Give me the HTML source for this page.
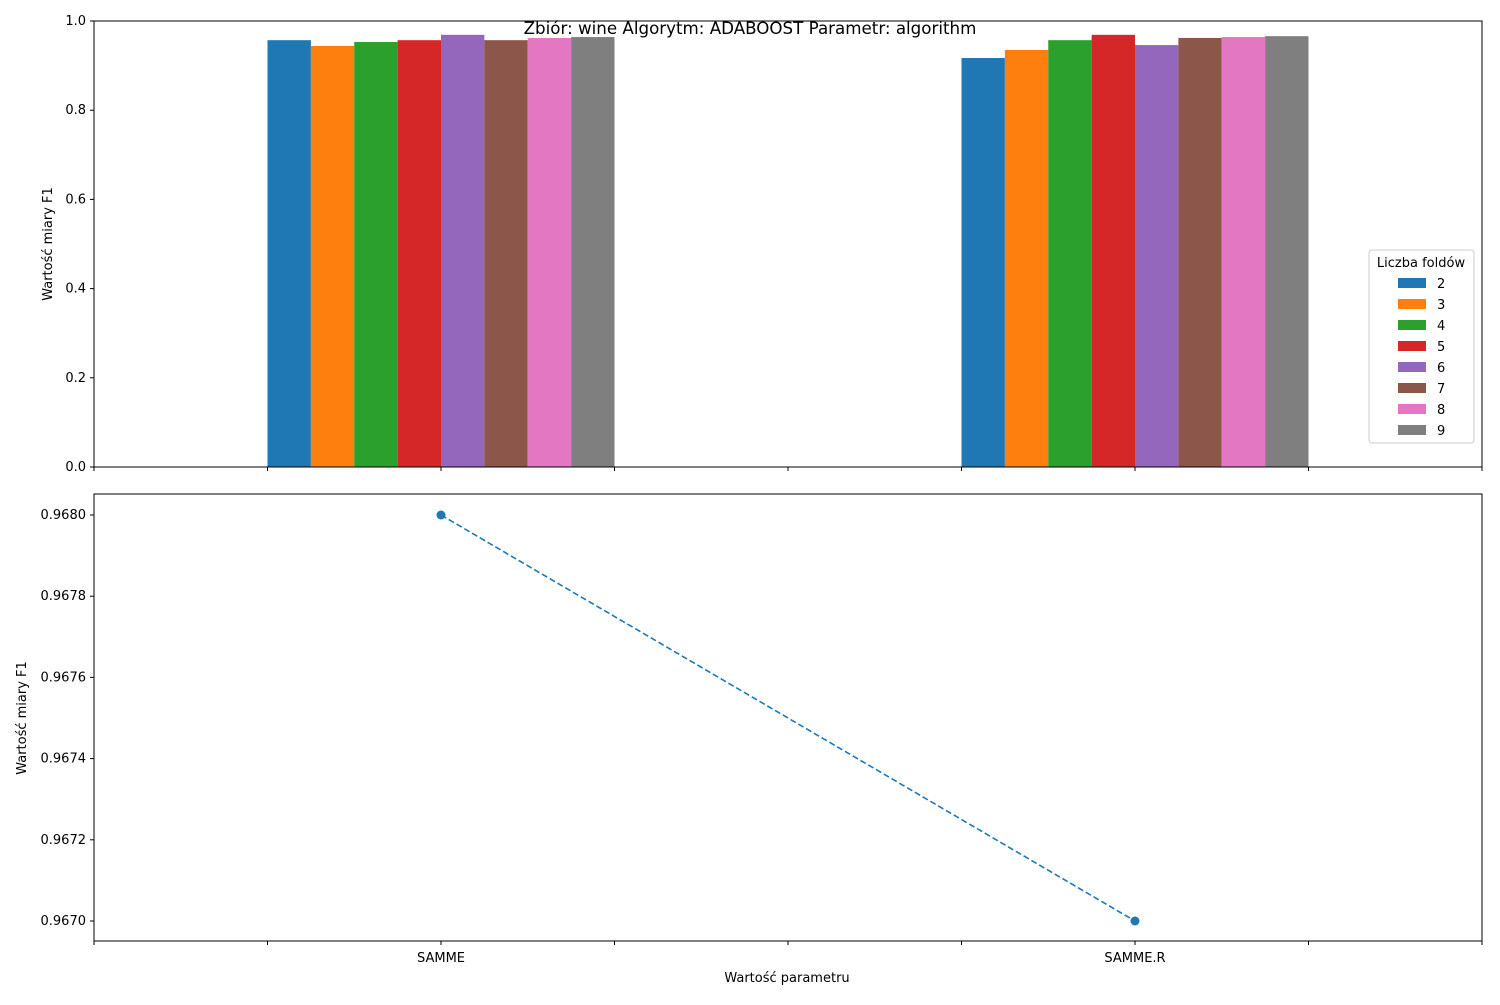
<!DOCTYPE html>
<html><head><meta charset="utf-8"><style>
body{margin:0;background:#fff;font-family:"Liberation Sans","DejaVu Sans",sans-serif;}
svg text{font-family:"DejaVu Sans","Liberation Sans",sans-serif;}
</style></head><body>
<svg id="c" width="1500" height="1000" xmlns="http://www.w3.org/2000/svg"></svg>
<script>
const categories=["SAMME","SAMME.R"];
const folds=["2","3","4","5","6","7","8","9"];
const f1Samme=[0.957,0.944,0.953,0.957,0.969,0.957,0.962,0.964];
const f1SammeR=[0.917,0.935,0.957,0.969,0.946,0.962,0.964,0.966];
const meanVals=[0.9680,0.9670];
const topTicks=[0,0.2,0.4,0.6,0.8,1.0];
const botTicks=[0.9670,0.9672,0.9674,0.9676,0.9678,0.9680];
const colors=["#1f77b4","#ff7f0e","#2ca02c","#d62728","#9467bd","#8c564b","#e377c2","#7f7f7f"];
const svg=document.getElementById('c');
const NS="http://www.w3.org/2000/svg";
function mk(t,a,p){const e=document.createElementNS(NS,t);for(const k in a)e.setAttribute(k,a[k]);(p||svg).appendChild(e);return e;}
const L=94,R=1482;
const xS=v=>L+(v+0.5)/2*(R-L);
const T1=21,B1=467;const y1=v=>B1-(v/1.0)*(B1-T1);
const T2=494,B2=941;const y2=v=>921-(v-0.9670)/0.001*406;
let t=mk('text',{x:750,y:34,'text-anchor':'middle','font-size':16.7});t.textContent="Zbiór: wine Algorytm: ADABOOST Parametr: algorithm";

const series=[f1Samme,f1SammeR];
const bw=0.5/8;
series.forEach((s,ci)=>{s.forEach((v,i)=>{
 const x0=xS(ci-0.25+i*bw),x1=xS(ci-0.25+(i+1)*bw);
 const r=mk('rect',{x:x0,y:y1(v),width:x1-x0,height:y1(0)-y1(v),fill:colors[i]});
 
});});
[[T1,B1],[T2,B2]].forEach(([a,b],k)=>{const f=mk('rect',{x:L,y:a,width:R-L,height:b-a,fill:'none',stroke:'#000','stroke-width':1});
});
topTicks.forEach(v=>{const y=y1(v);mk('line',{x1:L-4,x2:L,y1:y,y2:y,stroke:'#000'});
 const e=mk('text',{x:L-8,y:y+4,'text-anchor':'end','font-size':13});e.textContent=v.toFixed(1);
 });
botTicks.forEach(v=>{const y=y2(v);mk('line',{x1:L-4,x2:L,y1:y,y2:y,stroke:'#000'});
 const e=mk('text',{x:L-8,y:y+4,'text-anchor':'end','font-size':13});e.textContent=v.toFixed(4);
 });
for(let k=0;k<=8;k++){const x=L+k*(R-L)/8;
 mk('line',{x1:x,x2:x,y1:B1,y2:B1+4,stroke:'#000'});mk('line',{x1:x,x2:x,y1:B2,y2:B2+4,stroke:'#000'});}
categories.forEach((c,i)=>{const e=mk('text',{x:xS(i),y:962,'text-anchor':'middle','font-size':13});e.textContent=c;
 });
let a=mk('text',{x:787,y:982,'text-anchor':'middle','font-size':13});a.textContent="Wartość parametru";

a=mk('text',{transform:'translate(52,244) rotate(-90)','text-anchor':'middle','font-size':13});a.textContent="Wartość miary F1";

a=mk('text',{transform:'translate(26,718) rotate(-90)','text-anchor':'middle','font-size':13});a.textContent="Wartość miary F1";

const pts=meanVals.map((v,i)=>xS(i)+','+y2(v)).join(' ');
const pl=mk('polyline',{points:pts,fill:'none',stroke:'#1f77b4','stroke-width':1.6,'stroke-dasharray':'6,3'});

meanVals.forEach((v,i)=>{const c=mk('circle',{cx:xS(i),cy:y2(v),r:4.5,fill:'#1f77b4'});
 });
const g=mk('g',{});
mk('rect',{x:1369,y:250,width:105,height:193,fill:'#fff',stroke:'#ccc',rx:3},g);
let lt=mk('text',{x:1421,y:267,'text-anchor':'middle','font-size':13},g);lt.textContent="Liczba foldów";
folds.forEach((f,i)=>{const y=283+i*21;
 mk('rect',{x:1398,y:y-5,width:28,height:10,fill:colors[i]},g);
 const e=mk('text',{x:1437,y:y+5,'font-size':13},g);e.textContent=f;
 });
</script>
</body></html>
